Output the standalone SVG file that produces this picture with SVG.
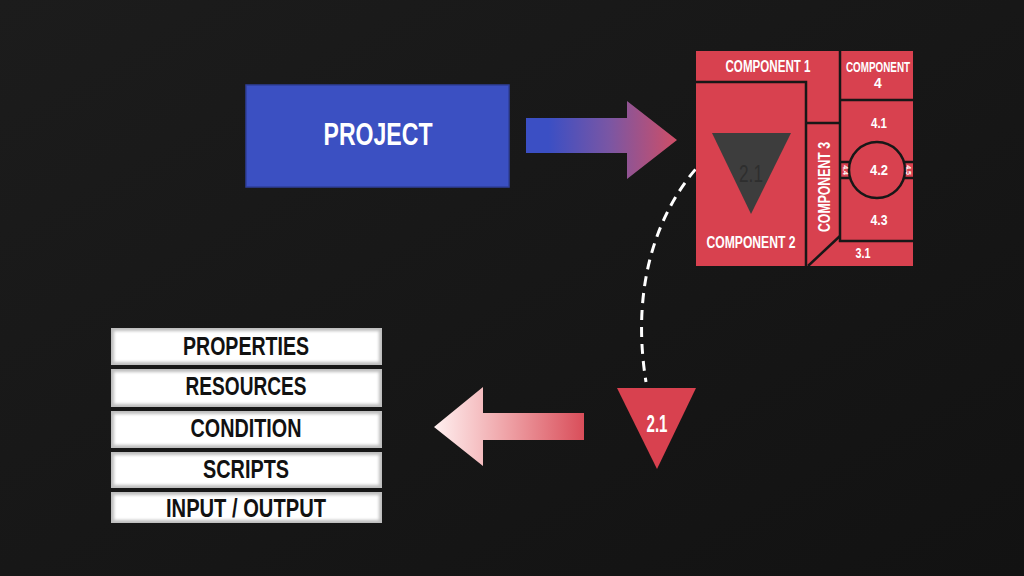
<svg xmlns="http://www.w3.org/2000/svg" width="1024" height="576" viewBox="0 0 1024 576">
<defs>
<linearGradient id="bg" x1="0" y1="0" x2="1" y2="1">
<stop offset="0" stop-color="#1c1c1c"/>
<stop offset="0.5" stop-color="#171717"/>
<stop offset="1" stop-color="#121212"/>
</linearGradient>
<linearGradient id="gRight" gradientUnits="userSpaceOnUse" x1="526" y1="0" x2="677" y2="0">
<stop offset="0.15" stop-color="#3b4fc4"/>
<stop offset="0.55" stop-color="#7a56a4"/>
<stop offset="1" stop-color="#cf4e66"/>
</linearGradient>
<linearGradient id="gLeft" gradientUnits="userSpaceOnUse" x1="434" y1="0" x2="584" y2="0">
<stop offset="0" stop-color="#fff0f0"/>
<stop offset="0.45" stop-color="#f0a8ac"/>
<stop offset="1" stop-color="#d94e5a"/>
</linearGradient>
<filter id="soft" x="-5%" y="-10%" width="110%" height="120%">
<feGaussianBlur stdDeviation="1.6"/>
</filter>
<style>
.red{fill:#d8414f}
.ln{fill:none;stroke:#171717;stroke-width:2.5}
.wt{font-family:"Liberation Sans",Arial,sans-serif;font-weight:bold;fill:#ffffff;text-anchor:middle}
.bk{font-family:"Liberation Sans",Arial,sans-serif;font-weight:bold;fill:#111111;text-anchor:middle;font-size:25px}
.edge{fill:#bdbdbd}
.face{fill:#ffffff;filter:url(#soft)}
</style>
</defs>
<rect width="1024" height="576" fill="url(#bg)"/>

<g id="connectors">
<path d="M526,118 H627 V101 L677,140 L627,179 V153 H526 Z" fill="url(#gRight)"/>
<path d="M707,157 C668,195 628,270 646,382" fill="none" stroke="#ffffff" stroke-width="3" stroke-dasharray="10,7"/>
<path d="M584,413 H483 V387 L434,427 L483,466 V440 H584 Z" fill="url(#gLeft)"/>
</g>

<g id="project">
<rect x="246" y="85" width="263" height="102" fill="#3b50c2" stroke="#2f3f9a" stroke-width="1.5"/>
<text class="wt" x="378" y="145" font-size="32" textLength="109" lengthAdjust="spacingAndGlyphs">PROJECT</text>
</g>

<g id="components">
<rect class="red" x="696" y="51" width="217" height="215"/>
<g id="component-1">
<text class="wt" x="768" y="72" font-size="16" textLength="85" lengthAdjust="spacingAndGlyphs">COMPONENT 1</text>
</g>
<g id="component-2">
<path class="ln" d="M696,82 H806 V266"/>
<polygon points="712,133 791,133 751,214" fill="#3d3d3d"/>
<text x="751" y="182" font-family="Liberation Sans, Arial, sans-serif" font-size="24" fill="#2e2e2e" text-anchor="middle" textLength="24" lengthAdjust="spacingAndGlyphs">2.1</text>
<text class="wt" x="751" y="248" font-size="16" textLength="89" lengthAdjust="spacingAndGlyphs">COMPONENT 2</text>
</g>
<g id="component-3">
<path class="ln" d="M806,123 H840"/>
<path class="ln" d="M840,236 L808,266"/>
<text class="wt" transform="translate(830,187) rotate(-90)" x="0" y="0" font-size="16" textLength="90" lengthAdjust="spacingAndGlyphs">COMPONENT 3</text>
<text class="wt" x="863" y="258" font-size="15" textLength="15" lengthAdjust="spacingAndGlyphs">3.1</text>
</g>
<g id="component-4">
<path class="ln" d="M840,51 V241 H913"/>
<path class="ln" d="M840,100 H913"/>
<text class="wt" x="878" y="72" font-size="14" textLength="64" lengthAdjust="spacingAndGlyphs">COMPONENT</text>
<text class="wt" x="878" y="88" font-size="14">4</text>
<text class="wt" x="879" y="128" font-size="15" textLength="16" lengthAdjust="spacingAndGlyphs">4.1</text>
<circle class="ln" cx="877" cy="170" r="28"/>
<path class="ln" d="M840,162 H851 M840,178 H851 M903,162 H913 M903,178 H913"/>
<text class="wt" x="879" y="175" font-size="15" textLength="18" lengthAdjust="spacingAndGlyphs">4.2</text>
<text class="wt" x="879" y="225" font-size="15" textLength="17" lengthAdjust="spacingAndGlyphs">4.3</text>
<text class="wt" transform="translate(843,170) rotate(90)" x="0" y="0" font-size="7">4.4</text>
<text class="wt" transform="translate(906,170) rotate(90)" x="0" y="0" font-size="7">4.5</text>
</g>
</g>

<g id="element-2-1">
<polygon class="red" points="617,388 696,388 657,469"/>
<text class="wt" x="657" y="432" font-size="23" textLength="21" lengthAdjust="spacingAndGlyphs">2.1</text>
</g>

<g id="properties">
<rect class="edge" x="111" y="328" width="271" height="37"/>
<rect class="face" x="114" y="331" width="265" height="31"/>
<text class="bk" x="246" y="355" textLength="126" lengthAdjust="spacingAndGlyphs">PROPERTIES</text>
</g>
<g id="resources">
<rect class="edge" x="111" y="369" width="271" height="38"/>
<rect class="face" x="114" y="372" width="265" height="32"/>
<text class="bk" x="246" y="395" textLength="121" lengthAdjust="spacingAndGlyphs">RESOURCES</text>
</g>
<g id="condition">
<rect class="edge" x="111" y="411" width="271" height="37"/>
<rect class="face" x="114" y="414" width="265" height="31"/>
<text class="bk" x="246" y="437" textLength="111" lengthAdjust="spacingAndGlyphs">CONDITION</text>
</g>
<g id="scripts">
<rect class="edge" x="111" y="452" width="271" height="36"/>
<rect class="face" x="114" y="455" width="265" height="30"/>
<text class="bk" x="246" y="478" textLength="86" lengthAdjust="spacingAndGlyphs">SCRIPTS</text>
</g>
<g id="input-output">
<rect class="edge" x="111" y="492" width="271" height="31"/>
<rect class="face" x="114" y="495" width="265" height="25"/>
<text class="bk" x="246" y="517" textLength="160" lengthAdjust="spacingAndGlyphs">INPUT / OUTPUT</text>
</g>
</svg>
